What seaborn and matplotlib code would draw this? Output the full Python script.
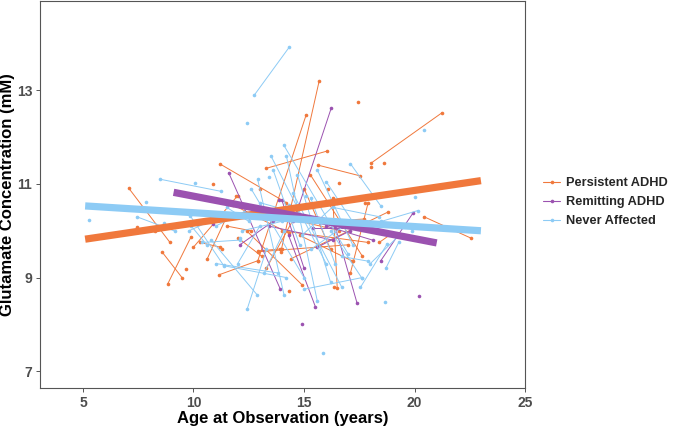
import matplotlib
matplotlib.use("Agg")
import matplotlib.pyplot as plt
from matplotlib.lines import Line2D
import seaborn as sns
import numpy as np
import pandas as pd

# === DATI ===
groups = ["Persistent ADHD", "Remitting ADHD", "Never Affected"]
colors = ["#F0783C", "#9B52B0", "#8DCBF5"]

# segmenti (eta1, glu1, eta2, glu2) per ogni soggetto con due osservazioni
pers_age1 = [7.07, 8.59, 8.84, 11.22, 13.27, 12.91, 13.95, 18.02, 20.42, 15.64, 11.16, 10.61, 15.28,
             12.90, 10.00, 11.80, 13.10, 14.00, 12.40, 16.30, 17.90, 14.40, 18.40, 12.00, 10.30,
             12.94, 15.00, 14.80, 16.00, 13.30, 11.50]
pers_glu1 = [10.91, 9.54, 8.87, 11.42, 11.33, 9.36, 9.55, 11.44, 10.30, 11.40, 9.06, 9.39, 11.20,
             9.55, 9.65, 10.55, 10.40, 10.00, 10.00, 10.70, 10.60, 9.40, 9.75, 9.85, 9.75,
             9.57, 10.90, 9.90, 10.20, 9.20, 10.10]
pers_age2 = [8.92, 9.48, 9.89, 14.20, 16.03, 15.10, 15.68, 21.24, 22.56, 17.55, 12.91, 11.55, 17.62,
             17.00, 12.00, 14.30, 16.60, 17.90, 14.90, 16.50, 17.10, 18.80, 19.00, 13.10, 11.20,
             13.92, 16.20, 17.20, 17.70, 14.70, 12.60]
pers_glu2 = [9.76, 9.00, 9.87, 10.60, 11.70, 12.48, 13.19, 12.52, 9.84, 11.17, 9.36, 10.35, 9.47,
             9.70, 10.75, 9.95, 10.00, 9.75, 8.85, 8.78, 9.10, 10.40, 9.95, 9.45, 9.65,
             9.61, 9.60, 9.35, 10.25, 10.40, 10.00]
pers_single_age = [9.66, 7.46, 8.24, 10.87, 17.44, 18.02, 18.60, 16.56, 17.77, 11.28, 13.00, 14.30, 16.10,
                   16.34, 17.17, 11.90, 14.00]
pers_single_glu = [9.18, 10.09, 9.99, 10.99, 12.75, 11.36, 11.44, 11.03, 10.60, 9.62, 10.90, 8.72, 10.90,
                   8.79, 9.36, 10.75, 9.60]

rem_age1 = [11.59, 14.60, 14.30, 16.40, 18.47, 13.40, 12.10, 15.40, 16.00, 14.00, 12.80, 15.60]
rem_glu1 = [11.24, 10.30, 9.90, 10.10, 9.36, 10.10, 9.70, 10.05, 10.10, 10.65, 10.35, 9.65]
rem_age2 = [13.93, 16.23, 15.51, 17.40, 19.93, 16.30, 13.60, 17.60, 18.10, 15.00, 14.50, 17.10]
rem_glu2 = [8.75, 12.62, 8.38, 8.45, 10.38, 9.80, 10.20, 10.05, 9.80, 9.20, 10.20, 10.00]
rem_single_age = [14.93, 20.22, 10.87, 13.85]
rem_single_glu = [8.00, 8.60, 10.14, 10.65]

never_age1 = [12.74, 8.49, 7.43, 14.08, 14.20, 12.90, 10.80, 12.43, 17.10, 16.20, 15.00, 9.80, 10.40,
              11.00, 13.00, 14.50, 15.30, 16.00, 18.00, 18.50, 18.70, 12.20, 9.90, 11.50, 13.60, 14.90,
              13.50, 12.60, 9.85, 11.40, 14.70, 15.60, 13.20, 16.30, 17.55, 11.00, 12.00, 15.30, 16.70]
never_glu1 = [12.89, 11.10, 10.30, 11.83, 11.60, 11.10, 9.80, 8.33, 11.43, 10.00, 8.75, 10.00, 9.75,
              9.30, 10.60, 10.80, 10.70, 11.05, 9.30, 10.20, 9.20, 10.00, 10.10, 10.50, 11.30, 9.90,
              11.60, 10.90, 10.32, 9.25, 11.20, 11.30, 9.10, 10.50, 8.79, 10.10, 9.30, 9.60, 9.45]
never_age2 = [14.33, 11.26, 9.17, 17.00, 15.60, 14.10, 12.88, 13.30, 18.47, 17.60, 17.63, 11.20, 12.10,
              13.80, 15.30, 16.70, 16.40, 17.40, 19.30, 20.14, 19.28, 14.00, 10.60, 12.50, 14.80, 16.50,
              16.00, 15.00, 11.36, 14.20, 16.20, 17.20, 14.10, 18.40, 18.76, 12.30, 13.00, 16.80, 17.90]
never_glu2 = [13.92, 10.84, 9.99, 9.50, 8.50, 8.62, 8.63, 9.60, 10.53, 9.00, 9.00, 10.30, 9.80,
              9.10, 10.30, 8.80, 9.30, 10.05, 9.90, 10.43, 9.75, 10.20, 9.70, 10.20, 9.70, 10.60,
              9.30, 9.00, 9.26, 9.00, 8.90, 9.70, 10.00, 10.30, 9.72, 10.40, 10.10, 10.10, 9.35]
never_single_age = [12.41, 5.27, 7.85, 10.09, 20.42, 15.84, 18.66, 8.67, 13.40, 15.10, 12.10, 14.30, 19.90, 20.04]
never_single_glu = [12.30, 10.24, 10.61, 11.01, 12.16, 7.38, 8.47, 10.16, 11.15, 10.75, 9.85, 10.55, 10.00, 10.71]

# rette di regressione (estremi) per gruppo
fit_age1 = [5.1, 9.1, 5.1]
fit_glu1 = [9.82, 10.82, 10.53]
fit_age2 = [23.0, 21.0, 23.0]
fit_glu2 = [11.07, 9.74, 10.00]

# === TABELLA LUNGA ===
rows = []
sid = 0
seg_data = [
    (pers_age1, pers_glu1, pers_age2, pers_glu2, pers_single_age, pers_single_glu),
    (rem_age1, rem_glu1, rem_age2, rem_glu2, rem_single_age, rem_single_glu),
    (never_age1, never_glu1, never_age2, never_glu2, never_single_age, never_single_glu),
]
for g, (a1, g1, a2, g2, sa, sg) in zip(groups, seg_data):
    for i in range(len(a1)):
        rows.append((sid, g, a1[i], g1[i]))
        rows.append((sid, g, a2[i], g2[i]))
        sid += 1
    for i in range(len(sa)):
        rows.append((sid, g, sa[i], sg[i]))
        sid += 1
df = pd.DataFrame(rows, columns=["id", "group", "age", "glu"])

fit_rows = []
for i, g in enumerate(groups):
    fit_rows.append((g, fit_age1[i], fit_glu1[i]))
    fit_rows.append((g, fit_age2[i], fit_glu2[i]))
fit = pd.DataFrame(fit_rows, columns=["group", "age", "glu"])

# === GRAFICO ===
sns.set_theme(style="white")
plt.rcParams['font.family'] = ['Liberation Sans', 'DejaVu Sans']

fig = plt.figure(figsize=(6.75, 4.26), dpi=100)
ax = fig.add_axes([0.059, 0.089, 0.719, 0.908])
pal = dict(zip(groups, colors))

sns.lineplot(data=df, x="age", y="glu", hue="group", units="id", estimator=None,
             palette=pal, marker="o", markersize=2.6, markeredgewidth=0, linewidth=0.7,
             sort=False, legend=False, ax=ax)
for g in groups:
    sns.lineplot(data=fit[fit.group == g], x="age", y="glu", color=pal[g],
                 linewidth=5.2, solid_capstyle="butt", legend=False, ax=ax)

ax.set_xlim(3.05, 25)
ax.set_ylim(6.64, 14.9)
ax.set_xticks([5, 10, 15, 20, 25])
ax.set_yticks([7, 9, 11, 13])
for s in ax.spines.values():
    s.set_color("#555555")
    s.set_linewidth(0.8)
ax.tick_params(axis="both", direction="out", length=3, width=0.7, color="#555555",
               labelcolor="#4D4D4D", labelsize=10, pad=2.5, bottom=True, left=True)
for lab in ax.get_xticklabels() + ax.get_yticklabels():
    lab.set_fontweight("bold")
ax.set_xlabel("Age at Observation (years)", fontsize=12, fontweight="bold", color="black", labelpad=1)
ax.set_ylabel("Glutamate Concentration (mM)", fontsize=12, fontweight="bold", color="black")
ax.yaxis.set_label_coords(-0.052, 0.5)

handles = [Line2D([0], [0], color=c, lw=0.8, marker="o", markersize=2.6, markeredgewidth=0) for c in colors]
leg = fig.legend(handles, groups, loc="center left", bbox_to_anchor=(0.788, 0.525), frameon=False,
                 handlelength=1.3, handletextpad=0.5, labelspacing=0.55,
                 prop={"weight": "bold", "size": 9.2})

fig.savefig("out.png", dpi=100)
